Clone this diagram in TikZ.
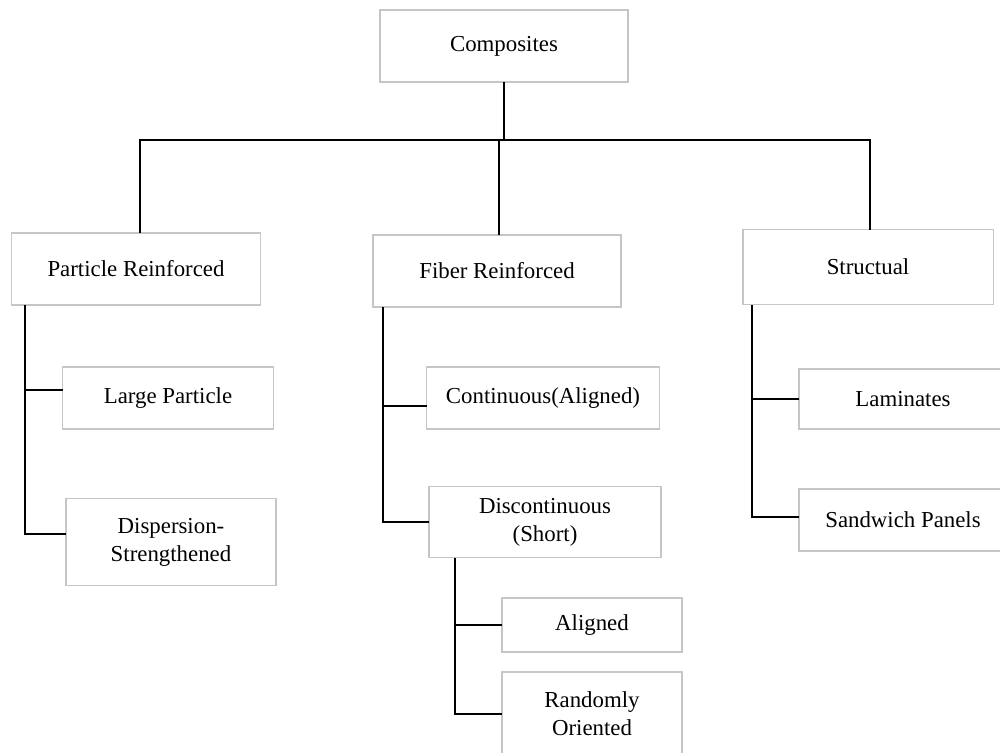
\documentclass[tikz,border=0pt]{standalone}
\usepackage{fontspec}
\setmainfont{Liberation Serif}
\tikzset{
  box/.style={draw=gray!45, line width=1.1pt, fill=white, inner sep=0pt, outer sep=0pt,
    align=center, font=\fontsize{13}{16}\selectfont},
  link/.style={draw=black, line width=1.1pt}
}
\begin{document}
\begin{tikzpicture}[x=0.02cm, y=-0.02cm]
    \useasboundingbox (0,0) rectangle (1000,752);
    \clip (0,0) rectangle (1000,752);
    % top level
    \node[box, minimum width=4.96cm, minimum height=1.44cm] (comp) at (504,46) {Composites};
    \coordinate (hub) at (499,140);
    % second level
    \node[box, minimum width=4.98cm, minimum height=1.44cm] (part) at (136,269) {Particle Reinforced};
    \node[box, minimum width=4.96cm, minimum height=1.44cm] (fib) at (497,271) {Fiber Reinforced};
    \node[box, minimum width=5.02cm, minimum height=1.50cm] (struc) at (868,267) {Structual};
    % particle branch
    \node[box, minimum width=4.22cm, minimum height=1.24cm] (large) at (168,398) {Large Particle};
    \node[box, minimum width=4.20cm, minimum height=1.74cm] (disp) at (171,542) {Dispersion-\\Strengthened};
    % fiber branch
    \node[box, minimum width=4.66cm, minimum height=1.24cm] (cont) at (543,398) {Continuous(Aligned)};
    \node[box, minimum width=4.64cm, minimum height=1.42cm] (disc) at (545,522) {Discontinuous\\(Short)};
    \node[box, minimum width=3.60cm, minimum height=1.08cm] (align) at (592,625) {Aligned};
    \node[box, minimum width=3.60cm, minimum height=1.68cm] (rand) at (592,714) {Randomly\\Oriented};
    % structural branch
    \node[box, minimum width=4.16cm, minimum height=1.20cm] (lam) at (903,399) {Laminates};
    \node[box, minimum width=4.16cm, minimum height=1.24cm] (sand) at (903,520) {Sandwich Panels};
    % connectors
    \draw[link] (comp.south) -- (comp.south |- hub);
    \draw[link] ([xshift=0.08cm]part.north) -- ([xshift=0.08cm]part.north |- hub)
        -- ([xshift=0.04cm]struc.north |- hub) -- ([xshift=0.04cm]struc.north);
    \draw[link] ([xshift=0.04cm]fib.north) -- ([xshift=0.04cm]fib.north |- hub);
    \coordinate (pspine) at (25,305);
    \draw[link] (pspine) |- ([yshift=0.16cm]large.west);
    \draw[link] (pspine) |- ([yshift=0.16cm]disp.west);
    \coordinate (fspine) at (383,307);
    \draw[link] (fspine) |- ([yshift=-0.16cm]cont.west);
    \draw[link] (fspine) |- (disc.west);
    \coordinate (dspine) at (455,558);
    \draw[link] (dspine) |- (align.west);
    \draw[link] (dspine) |- (rand.west);
    \coordinate (sspine) at (752,305);
    \draw[link] (sspine) |- (lam.west);
    \draw[link] (sspine) |- ([yshift=0.06cm]sand.west);
\end{tikzpicture}
\end{document}
